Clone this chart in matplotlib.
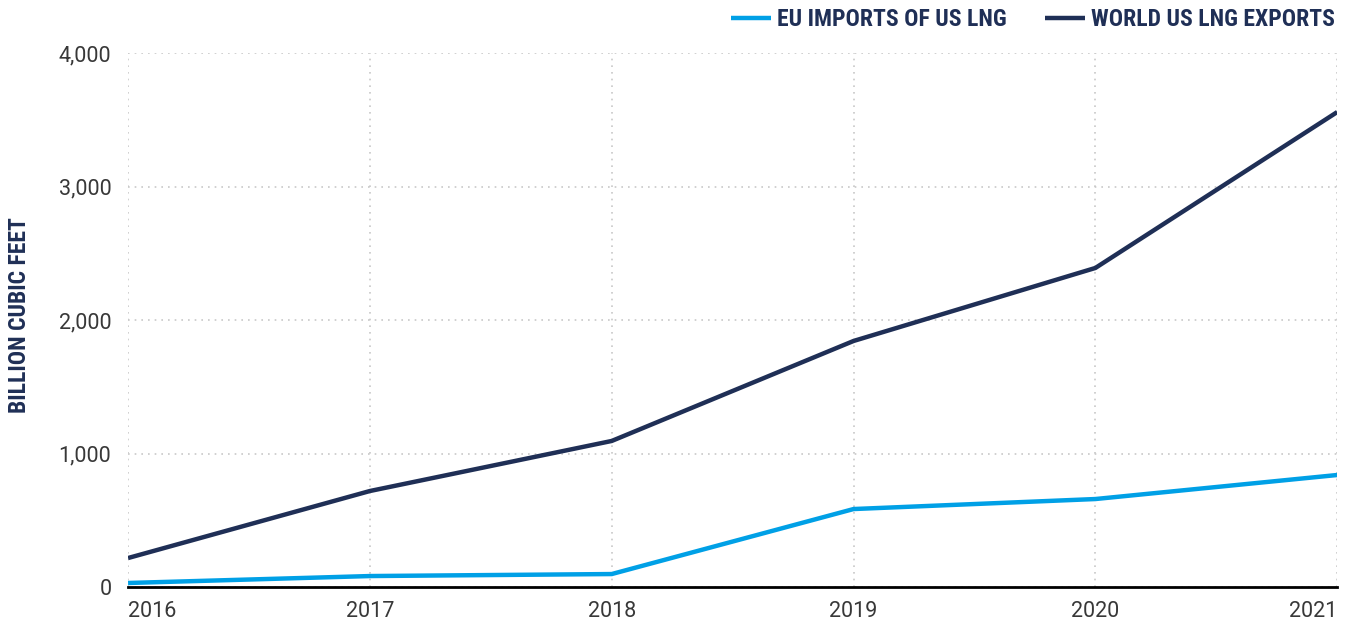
import matplotlib.pyplot as plt
from matplotlib.ticker import FuncFormatter

years = [2016, 2017, 2018, 2019, 2020, 2021]
eu_imports = [30, 82, 97, 584, 659, 839]
world_exports = [217, 719, 1094, 1843, 2390, 3558]

navy = '#1f2f56'
blue = '#00a0e6'
head_font = {'family': ['Roboto Condensed', 'Noto Sans Condensed', 'Open Sans Condensed',
                        'Liberation Sans Narrow', 'Noto Sans', 'DejaVu Sans'],
             'weight': 'bold', 'stretch': 'condensed', 'size': 17}

fig = plt.figure(figsize=(13.48, 6.24), dpi=100)
ax = fig.add_axes([0.095, 0.0593, 0.897, 0.8557])

ax.plot(years, world_exports, color=navy, lw=3.2, label='WORLD US LNG EXPORTS', solid_capstyle='butt')
ax.plot(years, eu_imports, color=blue, lw=3.2, label='EU IMPORTS OF US LNG', solid_capstyle='butt')

ax.set_xlim(2016, 2021)
ax.set_ylim(0, 4000)
ax.set_yticks([0, 1000, 2000, 3000, 4000])
ax.set_xticks(years)
ax.yaxis.set_major_formatter(FuncFormatter(lambda v, p: f'{int(v):,}'))

ax.grid(True, color='#c8c8c8', ls=(0, (1, 3)), lw=1.2)
ax.set_axisbelow(True)
for s in ['top', 'right', 'left']:
    ax.spines[s].set_visible(False)
ax.spines['bottom'].set_color('black')
ax.spines['bottom'].set_linewidth(2)
ax.spines['bottom'].set_zorder(5)

ax.tick_params(axis='both', length=0, labelsize=15.5, labelcolor='#383838')
ax.tick_params(axis='y', pad=12)
ax.tick_params(axis='x', pad=10)
xl = ax.get_xticklabels()
xl[0].set_horizontalalignment('left')
xl[-1].set_horizontalalignment('right')
for t in ax.get_xticklabels() + ax.get_yticklabels():
    t.set_fontfamily('Roboto')

ax.set_ylabel('BILLION CUBIC FEET', color=navy, fontdict=head_font)
ax.yaxis.set_label_coords(-0.08, 0.51)

handles, labels = ax.get_legend_handles_labels()
leg = fig.legend(handles[::-1], labels[::-1],
                 loc='center right', bbox_to_anchor=(0.990, 0.968), ncol=2, frameon=False,
                 borderpad=0, borderaxespad=0,
                 handlelength=1.7, columnspacing=1.6, handletextpad=0.25, prop=head_font)
for t in leg.get_texts():
    t.set_color(navy)

fig.savefig('out.png', dpi=100)
